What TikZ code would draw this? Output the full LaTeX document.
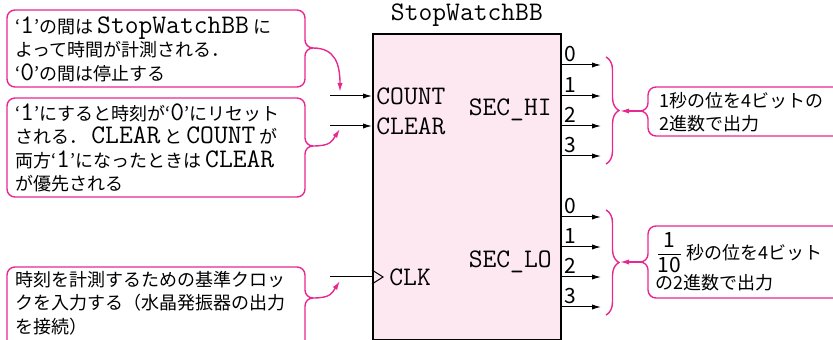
\documentclass[tikz,border=0pt]{standalone}
\usepackage{amsmath}
\usepackage{fontspec}
\setmainfont{Noto Sans CJK JP}
\newcommand{\cour}{\fontsize{13.4}{11.6}\selectfont\ttfamily}
\usetikzlibrary{arrows.meta, positioning, decorations.pathreplacing}
\definecolor{notepink}{RGB}{232,40,145}
\definecolor{blockfill}{RGB}{253,232,242}
\newcommand{\monow}[1]{\hspace{2pt}{\cour #1}\hspace{2pt}}
\newcommand{\fracdigit}[1]{\mbox{\fontsize{10.5}{11}\selectfont #1}}
\tikzset{
  sig/.style={-{Latex[length=4.5pt,width=2.6pt]}, line width=0.5pt},
  note/.style={notepink, line width=0.7pt, rounded corners=4pt},
  notearrow/.style={notepink, line width=0.7pt, -{Latex[length=4.5pt,width=2.6pt]}},
  notetext/.style={anchor=west, align=left, inner sep=0pt, font=\fontsize{9}{11.7}\selectfont},
  pinlabel/.style={inner sep=2pt, font=\cour},
  bitlabel/.style={anchor=south west, inner sep=1pt, font=\fontsize{10.5}{11}\selectfont},
  bracket/.style={notepink, line width=0.7pt, decorate, decoration={brace, amplitude=6.5pt}}
}

\begin{document}
\begin{tikzpicture}[x=0.5pt, y=-0.5pt]
\clip (0,0) rectangle (833,340);

% Block
\node[draw, line width=0.9pt, fill=blockfill, minimum width=94pt, minimum height=153pt, anchor=north west, inner sep=0pt] (sw) at (372,33) {};
\node[above=0pt of sw, pinlabel, inner sep=3pt] (swname) {StopWatchBB};

% Inputs
\node[pinlabel, anchor=west] (count) at (372,96) {COUNT};
\node[pinlabel, anchor=west] (clear) at (372,126) {CLEAR};
\node[pinlabel, anchor=west] (clk) at (385,277) {CLK};
\coordinate (countin) at (330,96);
\coordinate (clearin) at (330,126);
\coordinate (clkin) at (330,277);
\coordinate (clkpin) at (372,277);
\draw[sig] (countin) -- (count.west);
\draw[sig] (clearin) -- (clear.west);
\draw[line width=0.5pt] (clkin) -- (clkpin);
\draw[line width=0.5pt] (clkpin) ++(0,-7) -- ++(11,7) -- ++(-11,7);

% Outputs
\node[pinlabel, anchor=east] (sechi) at (556,110) {SEC\_HI};
\node[pinlabel, anchor=east] (seclo) at (556,262) {SEC\_LO};
\foreach \y [count=\b from 0] in {65,96,126,156} {
  \coordinate (hi\b) at (560,\y);
  \coordinate (hiend\b) at (601,\y);
  \draw[sig] (hi\b) -- (hiend\b);
  \node[bitlabel] (hibit\b) at (562,\y-1) {\b};
}
\foreach \y [count=\b from 0] in {217,247,277,307} {
  \coordinate (lo\b) at (560,\y);
  \coordinate (loend\b) at (601,\y);
  \draw[sig] (lo\b) -- (loend\b);
  \node[bitlabel] (lobit\b) at (562,\y-1) {\b};
}

% Notes on the inputs
\coordinate (countnotetip) at (313,48);
\draw[note] (countnotetip) -| (305,10) -| (7,87) -| (305,48) -- (countnotetip);
\node[notetext] (countnote) at (15,49) {‘{\cour 1}’の間は\monow{StopWatchBB}に\\よって時間が計測される．\\‘{\cour 0}’の間は停止する};
\coordinate (countarr) at (340,92);
\draw[notearrow] (countnotetip) .. controls +(22,0) and +(0,-28) .. (countarr);

\coordinate (clearnotetip) at (313,146);
\draw[note] (clearnotetip) -| (305,98) -| (7,197) -| (305,146) -- (clearnotetip);
\node[notetext] (clearnote) at (15,148) {‘{\cour 1}’にすると時刻が‘{\cour 0}’にリセット\\される．\monow{CLEAR}と\monow{COUNT}が\\両方‘{\cour 1}’になったときは\monow{CLEAR}\\が優先される};
\coordinate (cleararr) at (340,129);
\draw[notearrow] (clearnotetip) .. controls +(18,0) and +(-8,12) .. (cleararr);

\coordinate (clknotetip) at (313,298);
\draw[note] (clknotetip) -| (305,267) -| (7,350) -| (305,298) -- (clknotetip);
\node[notetext] (clknote) at (15,303) {時刻を計測するための基準クロッ\\クを入力する（水晶発振器の出力\\を接続）};
\coordinate (clkarr) at (340,281);
\draw[notearrow] (clknotetip) .. controls +(18,0) and +(-8,12) .. (clkarr);

% Notes on the outputs
\draw[bracket] (606,57) -- (606,164);
\coordinate (hibrace) at (620,111);
\coordinate (hinotetip) at (640,111);
\draw[note] (hinotetip) -| (648,87) -| (850,136) -| (648,111) -- (hinotetip);
\node[notetext] (hinote) at (659,112) {1秒の位を4ビットの\\2進数で出力};
\draw[notearrow] (hinotetip) -- (hibrace);

\draw[bracket] (606,210) -- (606,315);
\coordinate (lobrace) at (620,262);
\coordinate (lonotetip) at (640,262);
\draw[note] (lonotetip) -| (648,226) -| (850,298) -| (648,262) -- (lonotetip);
\node[notetext] (lonote) at (655,262) {$\dfrac{\fracdigit{1}}{\fracdigit{10}}$\,秒の位を4ビット\\の2進数で出力};
\draw[notearrow] (lonotetip) -- (lobrace);
\end{tikzpicture}
\end{document}
